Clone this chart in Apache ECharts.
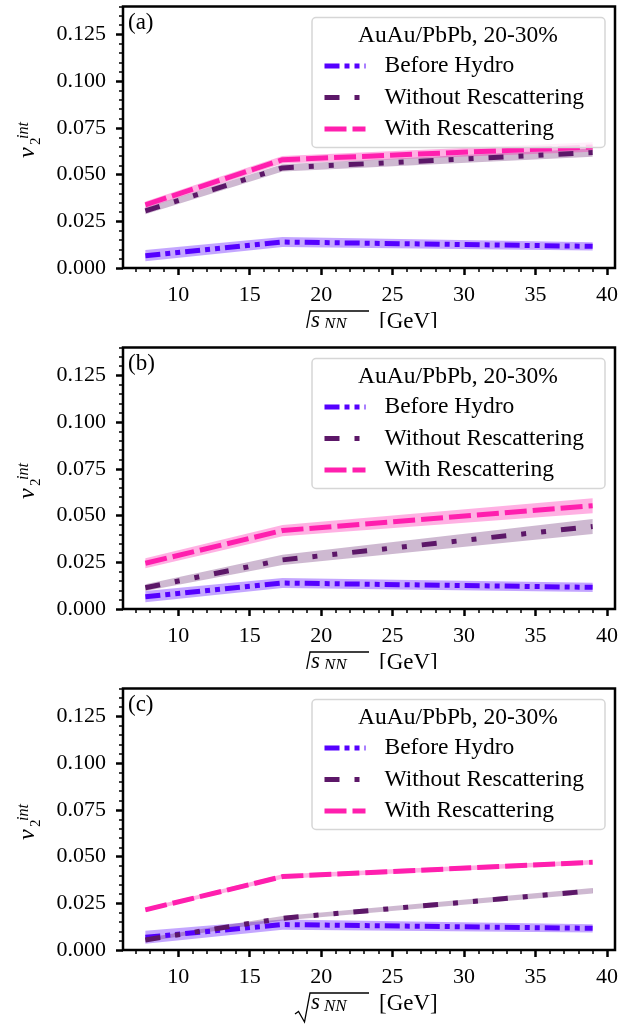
<!DOCTYPE html>
<html>
<head>
<meta charset="utf-8">
<script src="https://cdn.jsdelivr.net/npm/echarts@6/dist/echarts.min.js"></script>
<style>
  html, body { margin: 0; padding: 0; background: #fff; }
  #chart { width: 637px; height: 1030px; }
</style>
</head>
<body>
<div id="chart"></div>
<script>
// sqrt(s_NN) points, GeV
const energies = [7.7, 17.3, 39];
const panelTags = ['(a)', '(b)', '(c)'];
const seriesNames = ['Before Hydro', 'Without Rescattering', 'With Rescattering'];
const legendTitle = 'AuAu/PbPb, 20-30%';
const xTicks = [10, 15, 20, 25, 30, 35, 40];
const yTicks = [0, 0.025, 0.05, 0.075, 0.1, 0.125];

// integrated v2 (value + half width of the band)
const beforeA = [0.0066, 0.0139, 0.0116];
const beforeErrA = [0.003, 0.0027, 0.0022];
const withoutA = [0.0306, 0.0536, 0.0618];
const withoutErrA = [0.0018, 0.002, 0.0022];
const withA = [0.0338, 0.058, 0.0648];
const withErrA = [0.0018, 0.002, 0.0025];

const beforeB = [0.0066, 0.0139, 0.0116];
const beforeErrB = [0.003, 0.0027, 0.0025];
const withoutB = [0.0114, 0.0263, 0.0442];
const withoutErrB = [0.0018, 0.0027, 0.004];
const withB = [0.0245, 0.042, 0.0553];
const withErrB = [0.0027, 0.003, 0.004];

const beforeC = [0.0068, 0.0136, 0.0116];
const beforeErrC = [0.0035, 0.0027, 0.0022];
const withoutC = [0.0054, 0.017, 0.0317];
const withoutErrC = [0.001, 0.0012, 0.0015];
const withC = [0.0215, 0.0393, 0.047];
const withErrC = [0.001, 0.0012, 0.0012];

const panels = [
  { vals: [beforeA, withoutA, withA], errs: [beforeErrA, withoutErrA, withErrA] },
  { vals: [beforeB, withoutB, withB], errs: [beforeErrB, withoutErrB, withErrB] },
  { vals: [beforeC, withoutC, withC], errs: [beforeErrC, withoutErrC, withErrC] },
];

const FONT = 'Liberation Serif';
const colors = ['#5500ff', '#5c1768', '#ff1fae'];
const bandColors = ['rgba(85,0,255,0.35)', 'rgba(92,23,104,0.3)', 'rgba(255,31,174,0.35)'];
const dashes = [[15, 5, 5, 5, 5, 5], [15, 15, 5, 15, 5, 15], [22, 6]];

const tops = [6.5, 347.5, 688.5];
const H = 261.5;
const X_MIN = 6.135, X_MAX = 40.565;

// minor tick positions
const xMinor = [];
for (let v = 7; v <= 40; v++) if (v % 5) xMinor.push(v);
const yMinor = [];
for (let k = 1; k <= 28; k++) if (k % 5) yMinor.push(k * 5 / 1000);

const grid = [], xAxis = [], yAxis = [], series = [], legend = [], graphic = [];

const tickBase = { inside: false };
const labelFont = { fontFamily: FONT, fontSize: 22, color: '#000', fontWeight: 'normal' };

panels.forEach((panel, p) => {
  grid.push({
    left: 123, right: 22, top: tops[p], height: H,
    show: true, borderColor: '#000', borderWidth: 2.5,
    backgroundColor: 'transparent',
    containLabel: false, outerBoundsMode: 'none'
  });

  xAxis.push({
    type: 'value', gridIndex: p, min: X_MIN, max: X_MAX, position: 'bottom',
    axisLine: { show: false }, splitLine: { show: false },
    axisTick: { ...tickBase, customValues: xTicks, length: 7, lineStyle: { color: '#000', width: 2.5 } },
    axisLabel: { customValues: xTicks, margin: 16, ...labelFont }
  });
  xAxis.push({
    type: 'value', gridIndex: p, min: X_MIN, max: X_MAX, position: 'bottom',
    axisLine: { show: false }, splitLine: { show: false },
    axisTick: { ...tickBase, customValues: xMinor, length: 4, lineStyle: { color: '#000', width: 1.5 } },
    axisLabel: { show: false }
  });

  yAxis.push({
    type: 'value', gridIndex: p, min: 0, max: 0.14, position: 'left',
    axisLine: { show: false }, splitLine: { show: false },
    axisTick: { ...tickBase, customValues: yTicks, length: 7, lineStyle: { color: '#000', width: 2.5 } },
    axisLabel: { customValues: yTicks, margin: 17, ...labelFont, formatter: v => v.toFixed(3) }
  });
  yAxis.push({
    type: 'value', gridIndex: p, min: 0, max: 0.14, position: 'left', offset: 0,
    axisLine: { show: false }, splitLine: { show: false },
    axisTick: { ...tickBase, customValues: yMinor, length: 4, lineStyle: { color: '#000', width: 1.5 } },
    axisLabel: { show: false }
  });

  panel.vals.forEach((vals, k) => {
    const errs = panel.errs[k];
    // uncertainty band
    series.push({
      type: 'custom', xAxisIndex: 2 * p, yAxisIndex: 2 * p, silent: true,
      animation: false, z: 2,
      data: energies.map((x, i) => [x, vals[i] - errs[i], vals[i] + errs[i]]),
      encode: { x: 0, y: [1, 2] },
      renderItem(params, api) {
        if (params.dataIndex !== 0) return null;
        const upper = energies.map((x, i) => api.coord([x, vals[i] + errs[i]]));
        const lower = energies.map((x, i) => api.coord([x, vals[i] - errs[i]])).reverse();
        return { type: 'polygon', shape: { points: upper.concat(lower) }, style: { fill: bandColors[k] } };
      }
    });
    series.push({
      type: 'line', name: seriesNames[k], xAxisIndex: 2 * p, yAxisIndex: 2 * p,
      data: energies.map((x, i) => [x, vals[i]]),
      symbol: 'none', showSymbol: false, silent: true, animation: false, z: 2,
      itemStyle: { color: colors[k] },
      lineStyle: { color: colors[k], width: 5, type: dashes[k], cap: 'butt' }
    });
  });

  legend.push({
    left: 322, top: tops[p] + 47, orient: 'vertical', padding: 0,
    itemGap: 6.5, itemWidth: 41, itemHeight: 14, selectedMode: false, z: 10,
    data: seriesNames,
    lineStyle: { width: 5 },
    itemStyle: { opacity: 0 },
    textStyle: { fontFamily: FONT, fontSize: 23.5, color: '#000', lineHeight: 25, padding: [0, 0, 0, 14] }
  });

  const top = tops[p], bottom = tops[p] + H;

  // legend frame and title
  graphic.push({
    type: 'rect', z: 8, silent: true,
    shape: { x: 312, y: top + 11, width: 293, height: 130, r: 4 },
    style: { fill: 'rgba(255,255,255,0.8)', stroke: '#d6d6d6', lineWidth: 1.5 }
  });
  graphic.push({
    type: 'text', z: 9, silent: true, x: 458, y: top + 29.5,
    style: { text: legendTitle, font: '23.5px ' + FONT, fill: '#000', textAlign: 'center', textVerticalAlign: 'middle' }
  });
  graphic.push({
    type: 'text', z: 9, silent: true, x: 128, y: top + 16,
    style: { text: panelTags[p], font: '23px ' + FONT, fill: '#000', textAlign: 'left', textVerticalAlign: 'middle' }
  });

  // y label: v_2^{int}
  graphic.push({
    type: 'group', x: 28, y: top + 151.5, rotation: Math.PI / 2, silent: true,
    children: [
      { type: 'text', x: 0, y: 0, style: { text: 'v', font: 'italic 24px ' + FONT, fill: '#000', textAlign: 'left', textVerticalAlign: 'middle' } },
      { type: 'text', x: 13, y: 8, style: { text: '2', font: '15px ' + FONT, fill: '#000', textAlign: 'left', textVerticalAlign: 'middle' } },
      { type: 'text', x: 19, y: -4, style: { text: 'int', font: 'italic 16px ' + FONT, fill: '#000', textAlign: 'left', textVerticalAlign: 'middle' } }
    ]
  });

  // x label: sqrt(s_NN) [GeV]
  graphic.push({
    type: 'polyline', silent: true, z: 5,
    shape: { points: [[295, bottom + 64], [298.5, bottom + 61.5], [304.5, bottom + 72], [310, bottom + 43], [369, bottom + 43]] },
    style: { stroke: '#000', lineWidth: 1.3, fill: null }
  });
  graphic.push({
    type: 'text', silent: true, z: 5, x: 311, y: bottom + 53,
    style: { text: 's', font: 'italic 23px ' + FONT, fill: '#000', textAlign: 'left', textVerticalAlign: 'middle' }
  });
  graphic.push({
    type: 'text', silent: true, z: 5, x: 324, y: bottom + 57,
    style: { text: 'NN', font: 'italic 17px ' + FONT, fill: '#000', textAlign: 'left', textVerticalAlign: 'middle' }
  });
  graphic.push({
    type: 'text', silent: true, z: 5, x: 379, y: bottom + 54,
    style: { text: '[GeV]', font: '23px ' + FONT, fill: '#000', textAlign: 'left', textVerticalAlign: 'middle' }
  });
});

// the next panel hides the lower half of the x labels of (a) and (b)
[0, 1].forEach(p => {
  graphic.push({
    type: 'rect', silent: true, z: 20,
    shape: { x: 200, y: tops[p + 1] - 19.5, width: 300, height: 17.5 },
    style: { fill: '#fff' }
  });
});

const chart = echarts.init(document.getElementById('chart'));
chart.setOption({
  animation: false,
  backgroundColor: '#fff',
  textStyle: { fontFamily: FONT },
  grid, xAxis, yAxis, series, legend, graphic
});
</script>
</body>
</html>
